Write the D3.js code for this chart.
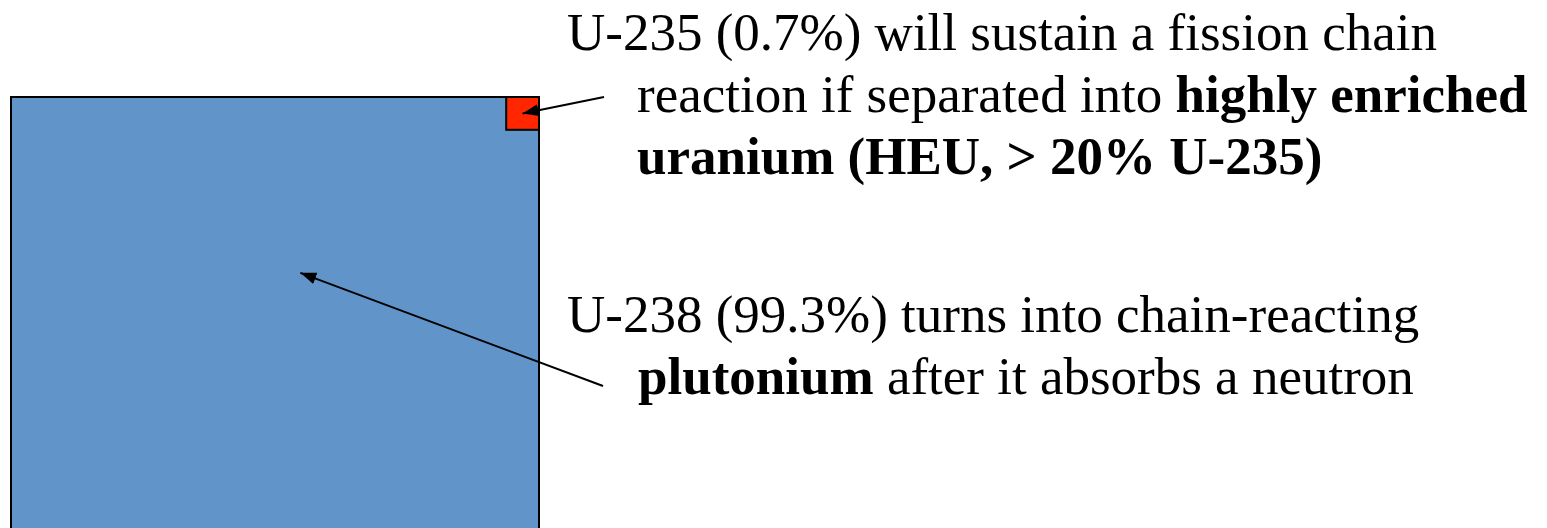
<!DOCTYPE html>
<html>
<head>
<meta charset="utf-8">
<script src="https://cdn.jsdelivr.net/npm/d3@7"></script>
<style>
  html, body { margin: 0; padding: 0; background: #fff; overflow: hidden; }
  svg { display: block; }
  text { font-family: "Liberation Serif", "Times New Roman", serif; fill: #000; }
</style>
</head>
<body>
<svg id="chart" width="1547" height="528"></svg>
<script>
// ---- data ----
const isotopes = ["U-238", "U-235"];
const shares = [99.3, 0.7];          // percent of natural uranium
const colors = ["#6195c9", "#ff2600"];
// annotation text: each line is a list of [text, bold]
const noteU235 = [
  [["U-235 (0.7%) will sustain a fission chain", false]],
  [["reaction if separated into ", false], ["highly enriched", true]],
  [["uranium (HEU, > 20% U-235)", true]]
];
const noteU238 = [
  [["U-238 (99.3%) turns into chain-reacting", false]],
  [["plutonium", true], [" after it absorbs a neutron", false]]
];

// ---- layout ----
const svg = d3.select("#chart");
const outer = { x: 11, y: 97, side: 528 };
// area-like scale for square side
const side = d3.scalePow().exponent(0.56).domain([0, 100]).range([0, outer.side]);

const defs = svg.append("defs");
defs.append("marker")
  .attr("id", "arrow")
  .attr("viewBox", "0 0 16 12")
  .attr("refX", 16).attr("refY", 6)
  .attr("markerWidth", 16).attr("markerHeight", 12)
  .attr("markerUnits", "userSpaceOnUse")
  .attr("orient", "auto")
  .append("path").attr("d", "M0,0 L16,6 L0,12 Z").attr("fill", "#000");

// big square = U-238 (whole sample), small square = U-235 in top-right corner
const squares = isotopes.map((name, i) => {
  const s = i === 0 ? outer.side : side(shares[i]);
  return { name, s, x: outer.x + outer.side - s, y: outer.y, color: colors[i] };
});

svg.selectAll("rect.iso")
  .data(squares)
  .join("rect")
  .attr("class", "iso")
  .attr("x", d => d.x)
  .attr("y", d => d.y)
  .attr("width", d => d.s)
  .attr("height", d => d.s)
  .attr("fill", d => d.color)
  .attr("stroke", "#000")
  .attr("stroke-width", 2);

// arrows
const arrows = [
  { from: [604, 97], to: [squares[1].x + squares[1].s / 2, squares[1].y + squares[1].s / 2] },
  { from: [603, 386], to: [outer.x + outer.side * 0.548, outer.y + outer.side * 0.333] }
];
svg.selectAll("line.arrow")
  .data(arrows)
  .join("line")
  .attr("class", "arrow")
  .attr("x1", d => d.from[0]).attr("y1", d => d.from[1])
  .attr("x2", d => d.to[0]).attr("y2", d => d.to[1])
  .attr("stroke", "#000")
  .attr("stroke-width", 2)
  .attr("marker-end", "url(#arrow)");

// text blocks
function drawNote(lines, x0, xIndent, y0, lh) {
  const t = svg.append("text").attr("font-size", 53);
  lines.forEach((parts, li) => {
    parts.forEach((p, pi) => {
      const ts = t.append("tspan")
        .text(p[0])
        .attr("font-weight", p[1] ? "bold" : "normal")
        .style("white-space", "pre");
      if (pi === 0) ts.attr("x", li === 0 ? x0 : xIndent).attr("y", y0 + li * lh);
    });
  });
}
drawNote(noteU235, 567, 637, 50, 62);
drawNote(noteU238, 567, 638, 332, 62);
</script>
</body>
</html>
